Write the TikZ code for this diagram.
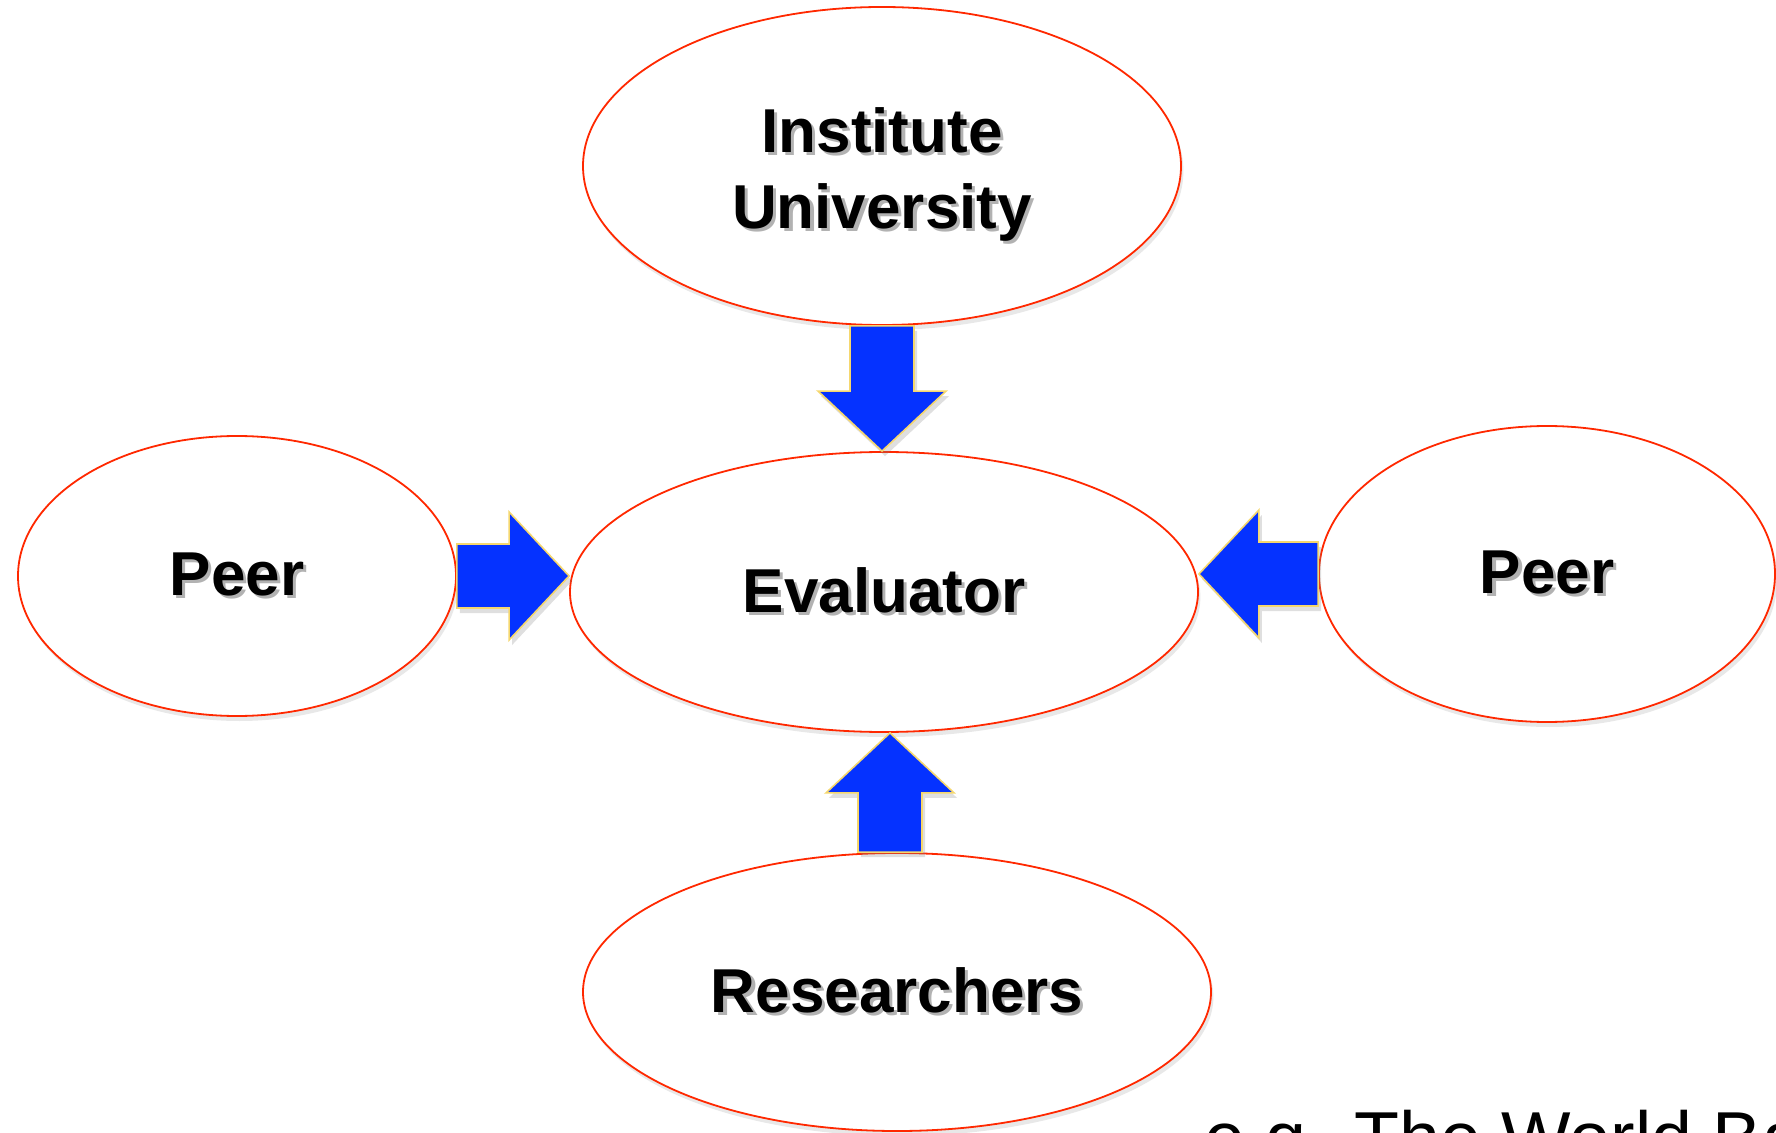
\documentclass[tikz,border=0pt]{standalone}
\usepackage{fontspec}
\setmainfont{Liberation Sans}
\usetikzlibrary{shapes.geometric,shadows,calc}
\definecolor{ovalred}{RGB}{255,40,0}
\definecolor{flowblue}{RGB}{5,50,255}
\definecolor{flowrim}{RGB}{245,215,110}
\newcommand{\shtext}[1]{\makebox[0pt][l]{\hspace{1.6pt}\raisebox{-1.8pt}{\textcolor{black!30}{#1}}}#1}
\tikzset{
  oval/.style={ellipse, draw=ovalred, line width=0.9pt, fill=white,
    drop shadow={opacity=0.18, shadow xshift=1.2pt, shadow yshift=-2.5pt},
    font=\fontsize{31}{38}\selectfont\bfseries, align=center, inner sep=0pt},
  flow/.style={fill=flowblue, draw=flowrim, line width=0.8pt, line join=miter,
    drop shadow={opacity=0.25, shadow xshift=1.5pt, shadow yshift=-2.5pt}}
}
\begin{document}
\begin{tikzpicture}[x=0.5pt,y=-0.5pt]
  \useasboundingbox (0,0) rectangle (1776,1133);
  \clip (0,0) rectangle (1776,1133);
  % the five ovals
  \node[oval, minimum width=299pt, minimum height=159pt] (inst) at (882,166)
    {\raisebox{-4.5pt}[\height][\depth]{\begin{tabular}{@{}c@{}}\shtext{Institute}\\\shtext{University}\end{tabular}}};
  \node[oval, minimum width=314pt, minimum height=140pt] (eval) at (884,592)
    {\shtext{Evaluator}};
  \node[oval, minimum width=219pt, minimum height=140pt] (peerL) at (237,576)
    {\shtext{Peer}};
  \node[oval, minimum width=228pt, minimum height=148pt] (peerR) at (1547,574)
    {\shtext{Peer}};
  \node[oval, minimum width=314pt, minimum height=139pt] (res) at (897,992)
    {\shtext{Researchers}};
  % tips of the block arrows on the evaluator
  \coordinate (tipN) at (inst.south |- eval.north);
  \coordinate (tipW) at (peerL.east -| eval.west);
  \coordinate (tipE) at (peerR.west -| eval.east);
  \coordinate (fromS) at ([xshift=-3.5pt]res.north);
  \coordinate (tipS) at (fromS |- eval.south);
  \foreach \a/\b in {inst.south/tipN, peerL.east/tipW, peerR.west/tipE, fromS/tipS}
  {
    \coordinate (hb) at ($(\b)!30pt!(\a)$); % base of the head
    \draw[flow] ($(\a)!16pt!90:(\b)$) -- ($(hb)!16pt!90:(\b)$)
      -- ($(hb)!32pt!90:(\b)$) -- (\b) -- ($(hb)!32pt!-90:(\b)$)
      -- ($(hb)!16pt!-90:(\b)$) -- ($(\a)!16pt!-90:(\b)$) -- cycle;
  }
  \node[anchor=base west, inner sep=0pt, font=\fontsize{36.8}{44}\selectfont] (note)
    at (1204,1163) {e.g. The World Bank};
\end{tikzpicture}
\end{document}
